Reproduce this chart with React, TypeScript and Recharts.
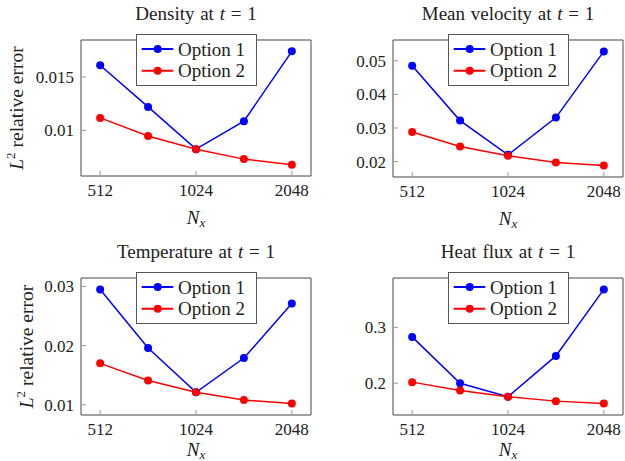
import { LineChart, Line, XAxis, YAxis } from "recharts";

const NX = [512, 724, 1024, 1448, 2048];
const X_TICKS = [512, 1024, 2048];

const DENSITY_OPT1 = [0.0161, 0.0122, 0.00824, 0.01086, 0.0174];
const DENSITY_OPT2 = [0.01117, 0.00947, 0.00824, 0.00731, 0.00679];
const VELOCITY_OPT1 = [0.0485, 0.0322, 0.022, 0.0331, 0.0528];
const VELOCITY_OPT2 = [0.0288, 0.0245, 0.0217, 0.0197, 0.0188];
const TEMPERATURE_OPT1 = [0.0295, 0.0196, 0.0121, 0.0179, 0.0271];
const TEMPERATURE_OPT2 = [0.017, 0.0141, 0.0121, 0.0108, 0.0102];
const HEATFLUX_OPT1 = [0.283, 0.2, 0.176, 0.249, 0.368];
const HEATFLUX_OPT2 = [0.202, 0.187, 0.176, 0.168, 0.1636];

const DENSITY_TICKS = [0.01, 0.015];
const VELOCITY_TICKS = [0.02, 0.03, 0.04, 0.05];
const TEMPERATURE_TICKS = [0.01, 0.02, 0.03];
const HEATFLUX_TICKS = [0.2, 0.3];

const SERIES = [
  { key: "opt1", name: "Option 1", color: "#0000ff" },
  { key: "opt2", name: "Option 2", color: "#ff0000" },
];

// pgfplots-like 10% enlargement (x in log space)
const X_DOMAIN = [Math.pow(2, 8.8), Math.pow(2, 11.2)];
function padDomain(a: number[], b: number[]) {
  const all = [...a, ...b];
  const lo = Math.min(...all);
  const hi = Math.max(...all);
  const pad = (hi - lo) * 0.1;
  return [lo - pad, hi + pad];
}

const FONT = "'Liberation Serif', serif";
const FRAME = "#444";
const TICK = "#999";

function XTick(props: any) {
  const { x, y, payload } = props;
  return (
    <text x={x} y={y} dy="0.71em" textAnchor="middle" fontSize={17} fill="#222" style={{ fontFamily: FONT }}>
      {String(payload.value)}
    </text>
  );
}

function YTick(props: any) {
  const { x, y, payload } = props;
  return (
    <text x={x} y={y} dy="0.355em" textAnchor="end" fontSize={17} fill="#222" style={{ fontFamily: FONT }}>
      {String(payload.value)}
    </text>
  );
}

function YLabel(props: any) {
  const { viewBox, baseX } = props;
  const cy = viewBox.y + viewBox.height / 2;
  return (
    <text
      x={baseX}
      y={cy}
      transform={`rotate(-90, ${baseX}, ${cy})`}
      textAnchor="middle"
      fontSize={19.5}
      fill="#222"
      style={{ fontFamily: FONT }}
    >
      <tspan fontStyle="italic">L</tspan>
      <tspan fontSize={13} dy={-8}>2</tspan>
      <tspan dy={8}> relative error</tspan>
    </text>
  );
}

function XLabel(props: any) {
  const { viewBox, gap } = props;
  const cx = viewBox.x + viewBox.width / 2;
  return (
    <text x={cx} y={viewBox.y + gap} textAnchor="middle" fontSize={19} fill="#222" style={{ fontFamily: FONT }}>
      <tspan fontStyle="italic">N</tspan>
      <tspan fontStyle="italic" fontSize={13} dy={3}>x</tspan>
    </text>
  );
}

function LegendBox({ left, top }: { left: number; top: number }) {
  return (
    <div
      style={{
        position: "absolute",
        left,
        top,
        width: 121,
        height: 52,
        boxSizing: "border-box",
        border: "1px solid #555",
        background: "#fff",
      }}
    >
      <svg width={119} height={50} style={{ display: "block" }}>
        {SERIES.map((s, i) => {
          const y = 14 + i * 21.7;
          return (
            <g key={s.key}>
              <line x1={4.7} x2={36.3} y1={y} y2={y} stroke={s.color} strokeWidth={2} />
              <circle cx={20.7} cy={y} r={4} fill={s.color} />
              <text x={41} y={y} dy="0.35em" fontSize={19} fill="#222" style={{ fontFamily: FONT }}>
                {s.name}
              </text>
            </g>
          );
        })}
      </svg>
    </div>
  );
}

interface PanelProps {
  title: string;
  opt1: number[];
  opt2: number[];
  yTicks: number[];
  left: number;
  top: number;
  width: number;
  height: number;
  plotLeft: number;
  plotTop: number;
  plotHeight: number;
  plotWidth: number;
  xLabelGap: number;
  yLabelX?: number;
}

function Panel(p: PanelProps) {
  const data = NX.map((nx, i) => ({ nx, opt1: p.opt1[i], opt2: p.opt2[i] }));
  const yDomain = padDomain(p.opt1, p.opt2);
  const marginTop = p.plotTop - 1;
  const marginRight = p.width - p.plotLeft - p.plotWidth - 1;
  const xAxisHeight = p.height - p.plotTop - p.plotHeight;
  const centerX = p.left + p.plotLeft + p.plotWidth / 2;

  return (
    <>
      <LineChart
        width={p.width}
        height={p.height}
        data={data}
        margin={{ top: marginTop, right: marginRight, bottom: 0, left: 0 }}
        style={{ position: "absolute", left: p.left, top: p.top }}
      >
        <XAxis
          dataKey="nx"
          type="number"
          scale="log"
          domain={X_DOMAIN}
          allowDataOverflow
          ticks={X_TICKS}
          height={xAxisHeight}
          axisLine={{ stroke: FRAME }}
          tickLine={{ stroke: TICK }}
          tickSize={-5}
          tickMargin={13}
          tick={<XTick />}
          interval={0}
          label={<XLabel gap={p.xLabelGap} />}
        />
        <XAxis
          xAxisId="top"
          orientation="top"
          dataKey="nx"
          type="number"
          scale="log"
          domain={X_DOMAIN}
          allowDataOverflow
          ticks={X_TICKS}
          height={1}
          axisLine={{ stroke: FRAME }}
          tickLine={{ stroke: TICK }}
          tickSize={-5}
          tick={false}
        />
        <YAxis
          type="number"
          domain={yDomain}
          allowDataOverflow
          ticks={p.yTicks}
          width={p.plotLeft}
          axisLine={{ stroke: FRAME }}
          tickLine={{ stroke: TICK }}
          tickSize={-5}
          tickMargin={12}
          tick={<YTick />}
          interval={0}
          label={p.yLabelX !== undefined ? <YLabel baseX={p.yLabelX} /> : undefined}
        />
        <YAxis
          yAxisId="right"
          orientation="right"
          type="number"
          domain={yDomain}
          allowDataOverflow
          ticks={p.yTicks}
          width={1}
          axisLine={{ stroke: FRAME }}
          tickLine={{ stroke: TICK }}
          tickSize={-5}
          tick={false}
        />
        {SERIES.map((s) => (
          <Line
            key={s.key}
            dataKey={s.key}
            name={s.name}
            stroke={s.color}
            strokeWidth={1.5}
            dot={{ r: 4, fill: s.color, stroke: "none" }}
            isAnimationActive={false}
          />
        ))}
      </LineChart>
      <div
        style={{
          position: "absolute",
          left: centerX - 150,
          width: 300,
          top: p.top + p.plotTop - 36,
          textAlign: "center",
          fontSize: 19,
          lineHeight: "19px",
          fontFamily: FONT,
          color: "#222",
          wordSpacing: 1,
        }}
      >
        {p.title} at <i>t</i> = 1
      </div>
      <LegendBox left={centerX - 60.5} top={p.top + p.plotTop - 6.5} />
    </>
  );
}

export default function App() {
  return (
    <div
      style={{
        position: "absolute",
        left: 0,
        top: 0,
        width: 625,
        height: 461,
        overflow: "hidden",
        background: "#fff",
        fontFamily: FONT,
      }}
    >
      <Panel
        title="Density"
        opt1={DENSITY_OPT1}
        opt2={DENSITY_OPT2}
        yTicks={DENSITY_TICKS}
        left={0}
        top={0}
        width={313}
        height={230}
        plotLeft={81}
        plotTop={40}
        plotWidth={230}
        plotHeight={136}
        xLabelGap={48}
        yLabelX={22.5}
      />
      <Panel
        title="Mean velocity"
        opt1={VELOCITY_OPT1}
        opt2={VELOCITY_OPT2}
        yTicks={VELOCITY_TICKS}
        left={313}
        top={0}
        width={312}
        height={230}
        plotLeft={80}
        plotTop={40}
        plotWidth={230}
        plotHeight={137}
        xLabelGap={48}
      />
      <Panel
        title="Temperature"
        opt1={TEMPERATURE_OPT1}
        opt2={TEMPERATURE_OPT2}
        yTicks={TEMPERATURE_TICKS}
        left={0}
        top={230}
        width={313}
        height={231}
        plotLeft={81}
        plotTop={48}
        plotWidth={230}
        plotHeight={137}
        xLabelGap={41}
        yLabelX={32.5}
      />
      <Panel
        title="Heat flux"
        opt1={HEATFLUX_OPT1}
        opt2={HEATFLUX_OPT2}
        yTicks={HEATFLUX_TICKS}
        left={313}
        top={230}
        width={312}
        height={231}
        plotLeft={80}
        plotTop={48}
        plotWidth={230}
        plotHeight={137}
        xLabelGap={41}
      />
    </div>
  );
}
